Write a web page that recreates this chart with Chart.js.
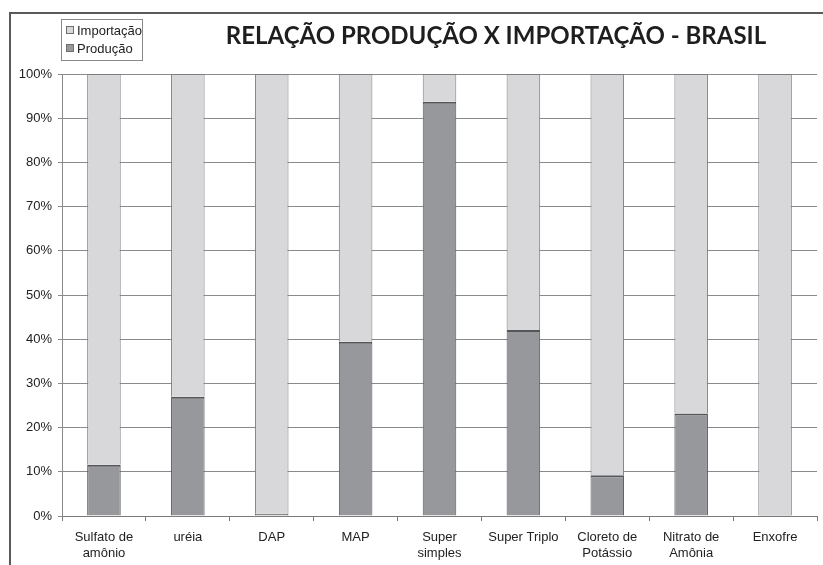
<!DOCTYPE html>
<html>
<head>
<meta charset="utf-8">
<script src="https://cdn.jsdelivr.net/npm/chart.js@4/dist/chart.umd.min.js"></script>
<style>
  html, body { margin: 0; padding: 0; background: #fff; }
  #wrap { width: 823px; height: 565px; position: relative; }
</style>
</head>
<body>
<div id="wrap"><canvas id="c" width="823" height="565"></canvas></div>
<script>
// Fertilizantes: participação da produção nacional e da importação (%)
const categorias = [
  ['Sulfato de', 'amônio'], 'uréia', 'DAP', 'MAP', ['Super', 'simples'],
  'Super Triplo', ['Cloreto de', 'Potássio'], ['Nitrato de', 'Amônia'], 'Enxofre'
];
const producao   = [11.6, 27.0, 0.5, 39.4, 93.7, 42.1, 9.2, 23.2, 0.2];
const importacao = [88.4, 73.0, 99.5, 60.6, 6.3, 57.9, 90.8, 76.8, 99.8];
const ticksY = ['0%', '10%', '20%', '30%', '40%', '50%', '60%', '70%', '80%', '90%', '100%'];
const titulo = 'RELAÇÃO PRODUÇÃO X IMPORTAÇÃO - BRASIL';

const corImport = '#d8d8da';
const corProd = '#97989c';

// moldura externa, título e legenda em caixa
const decoracao = {
  id: 'decoracao',
  afterDraw(chart) {
    const ctx = chart.ctx;
    ctx.save();
    // moldura
    ctx.strokeStyle = '#5a5a5a';
    ctx.lineWidth = 2;
    ctx.beginPath();
    ctx.moveTo(10, 565);
    ctx.lineTo(10, 13);
    ctx.lineTo(823, 13);
    ctx.stroke();

    // título
    ctx.fillStyle = '#1e1e1e';
    ctx.font = 'bold 24px Lato, "DejaVu Sans", sans-serif';
    ctx.textAlign = 'center';
    ctx.textBaseline = 'alphabetic';
    ctx.fillText(titulo, 496, 44);

    // legenda
    ctx.lineWidth = 1;
    ctx.strokeStyle = '#8a8a8a';
    ctx.strokeRect(61.5, 19.5, 81, 41);
    ctx.beginPath();
    ctx.rect(62, 20, 80, 40);
    ctx.clip();
    const itens = [
      { texto: 'Importação', cor: corImport, y: 30 },
      { texto: 'Produção', cor: corProd, y: 48 }
    ];
    ctx.font = '13px "Liberation Sans", Arial, sans-serif';
    ctx.textAlign = 'left';
    ctx.textBaseline = 'middle';
    for (const it of itens) {
      ctx.fillStyle = it.cor;
      ctx.fillRect(66, it.y - 4, 8, 8);
      ctx.strokeStyle = '#6e6e6e';
      ctx.strokeRect(66.5, it.y - 3.5, 7, 7);
      ctx.fillStyle = '#222';
      ctx.fillText(it.texto, 77, it.y + 1);
    }
    ctx.restore();
  }
};

new Chart(document.getElementById('c'), {
  type: 'bar',
  data: {
    labels: categorias,
    datasets: [
      {
        label: 'Produção',
        data: producao,
        backgroundColor: corProd,
        borderColor: '#55565a',
        borderWidth: { top: 2, left: 1, right: 1, bottom: 0 },
        borderSkipped: false,
        barPercentage: 0.4,
        categoryPercentage: 1
      },
      {
        label: 'Importação',
        data: importacao,
        backgroundColor: corImport,
        borderColor: '#7c7c80',
        borderWidth: { top: 1, left: 1, right: 1, bottom: 0 },
        borderSkipped: false,
        barPercentage: 0.4,
        categoryPercentage: 1
      }
    ]
  },
  options: {
    responsive: false,
    animation: false,
    layout: { padding: { top: 74, right: 6, left: 0, bottom: 0 } },
    plugins: {
      legend: { display: false },
      title: { display: false },
      tooltip: { enabled: false }
    },
    scales: {
      x: {
        stacked: true,
        grid: {
          display: true,
          drawOnChartArea: false,
          drawTicks: true,
          tickLength: 5,
          color: '#7a7a7a',
          offset: true
        },
        border: { display: true, color: '#7a7a7a', width: 1 },
        ticks: {
          color: '#222',
          font: { family: '"Liberation Sans", Arial, sans-serif', size: 13, lineHeight: 1.25 },
          maxRotation: 0,
          autoSkip: false,
          padding: 8
        },
        afterFit(scale) { scale.height = 49; }
      },
      y: {
        stacked: true,
        min: 0,
        max: 100,
        grid: {
          color: '#8a8a8a',
          lineWidth: 1,
          drawTicks: true,
          tickLength: 4
        },
        border: { display: true, color: '#8a8a8a', width: 1 },
        ticks: {
          stepSize: 10,
          color: '#222',
          font: { family: '"Liberation Sans", Arial, sans-serif', size: 13 },
          padding: 6,
          callback: (v) => ticksY[Math.round(v / 10)]
        },
        afterFit(scale) { scale.width = 62; }
      }
    }
  },
  plugins: [decoracao]
});
</script>
</body>
</html>
